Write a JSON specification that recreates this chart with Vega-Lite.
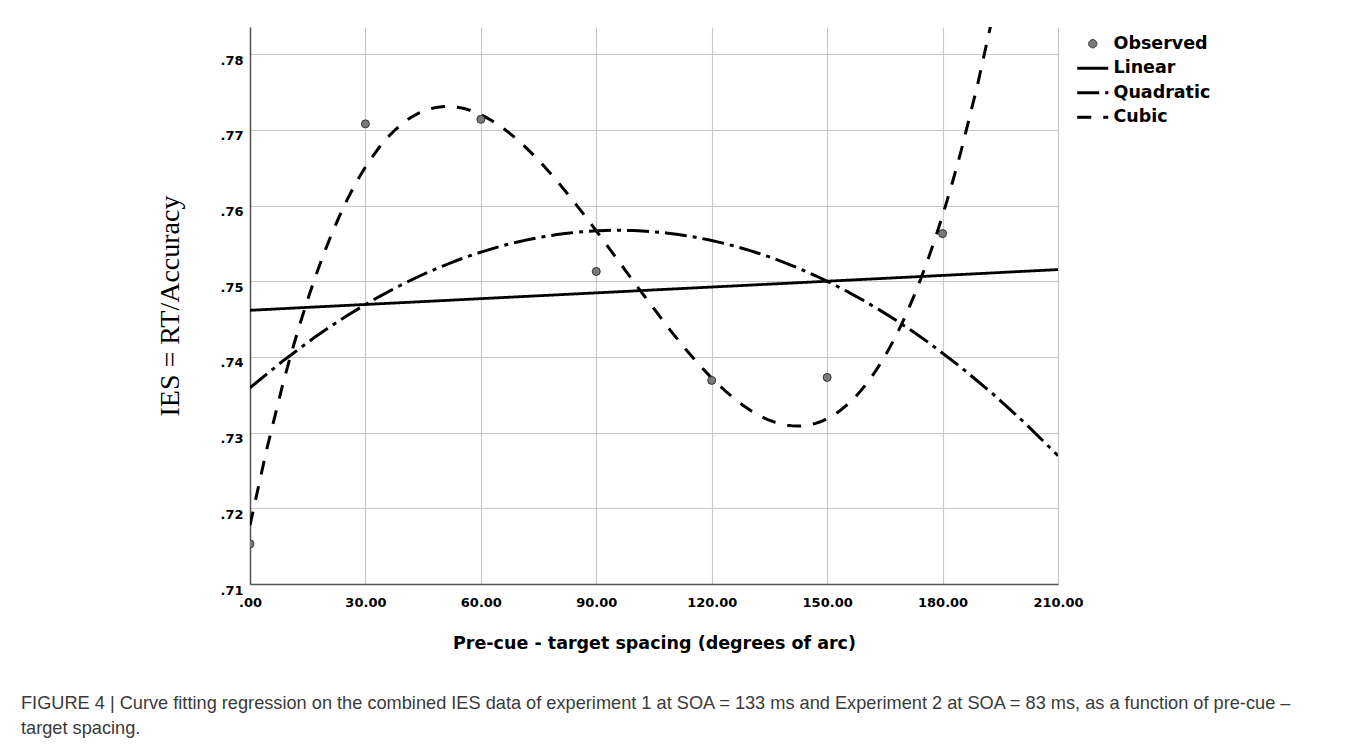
{
  "$schema": "https://vega.github.io/schema/vega-lite/v6.json",
  "width": 808,
  "height": 557,
  "autosize": {"type": "none"},
  "padding": {"left": 250, "top": 27, "right": 299, "bottom": 160},
  "background": "white",
  "config": {"view": {"stroke": null}},
  "data": {"values": [
    {"x": 0, "y": 0.7153},
    {"x": 30, "y": 0.7708},
    {"x": 60, "y": 0.7714},
    {"x": 90, "y": 0.7513},
    {"x": 120, "y": 0.7369},
    {"x": 150, "y": 0.7373},
    {"x": 180, "y": 0.7563}
  ]},
  "title": {
    "text": ["FIGURE 4 | Curve fitting regression on the combined IES data of experiment 1 at SOA = 133 ms and Experiment 2 at SOA = 83 ms, as a function of pre-cue –", "target spacing."],
    "orient": "bottom",
    "anchor": "start",
    "frame": "group",
    "dx": -229,
    "offset": 43,
    "font": "Liberation Sans Narrow, Liberation Sans",
    "fontSize": 18.2,
    "fontWeight": "normal",
    "color": "#3a3a3a",
    "lineHeight": 25,
    "baseline": "top"
  },
  "encoding": {
    "x": {
      "field": "x", "type": "quantitative",
      "scale": {"domain": [0, 210], "nice": false, "zero": false},
      "axis": {
        "values": [0, 30, 60, 90, 120, 150, 180, 210],
        "labelExpr": "datum.value === 0 ? '.00' : format(datum.value, '.2f')",
        "title": "Pre-cue - target spacing (degrees of arc)",
        "grid": true, "gridColor": "#c8c8c8", "gridWidth": 1.2,
        "domainColor": "#555555", "domainWidth": 1.5,
        "ticks": false,
        "labelFlush": false, "labelOverlap": false,
        "labelFont": "DejaVu Sans", "labelFontWeight": "bold", "labelFontSize": 13, "labelColor": "#000000",
        "labelPadding": 12,
        "titleFont": "DejaVu Sans", "titleFontWeight": "bold", "titleFontSize": 17.5, "titleColor": "#000000",
        "titlePadding": 25
      }
    },
    "y": {
      "field": "y", "type": "quantitative",
      "scale": {"domain": [0.71, 0.7836], "nice": false, "zero": false},
      "axis": {
        "values": [0.71, 0.72, 0.73, 0.74, 0.75, 0.76, 0.77, 0.78],
        "labelExpr": "replace(format(datum.value, '.2f'), '0.', '.')",
        "title": "IES = RT/Accuracy",
        "grid": true, "gridColor": "#c8c8c8", "gridWidth": 1.2,
        "domainColor": "#555555", "domainWidth": 1.5,
        "ticks": false,
        "labelFlush": false, "labelOverlap": false,
        "labelFont": "DejaVu Sans", "labelFontWeight": "bold", "labelFontSize": 13, "labelColor": "#000000",
        "labelPadding": 7, "labelOffset": 6,
        "titleFont": "Liberation Serif", "titleFontWeight": "normal", "titleFontSize": 28, "titleColor": "#000000",
        "titlePadding": 35
      }
    }
  },
  "layer": [
    {
      "transform": [{"regression": "y", "on": "x", "method": "linear", "extent": [0, 210]}],
      "mark": {"type": "line", "color": "#000000", "strokeWidth": 2.8, "clip": true},
      "encoding": {
        "strokeDash": {
          "datum": "Linear", "type": "nominal",
          "scale": {"domain": ["Observed", "Linear", "Quadratic", "Cubic"], "range": [[1, 0], [1, 0], [22, 6, 4, 6], [14, 12]]},
          "legend": {
            "title": null, "orient": "none", "legendX": 834, "legendY": 8,
            "symbolType": "M-3,0H3", "symbolSize": 107, "symbolStrokeWidth": 2.8, "symbolStrokeColor": "#000000",
            "labelFont": "DejaVu Sans", "labelFontWeight": "bold", "labelFontSize": 17.5, "labelColor": "#000000",
            "labelOffset": 12, "rowPadding": 5.5,
            "encode": {"symbols": {"update": {
              "shape": {"signal": "datum.value === 'Observed' ? 'M-0.8,0A0.8,0.8,0,1,0,0.8,0A0.8,0.8,0,1,0,-0.8,0Z' : 'M-3,0H3'"},
              "fill": {"signal": "datum.value === 'Observed' ? '#7a7a7a' : 'transparent'"},
              "stroke": {"signal": "datum.value === 'Observed' ? '#333333' : '#000000'"},
              "strokeWidth": {"signal": "datum.value === 'Observed' ? 1 : 2.8"}
            }}}
          }
        }
      }
    },
    {
      "transform": [{"regression": "y", "on": "x", "method": "poly", "order": 2, "extent": [0, 210]}],
      "mark": {"type": "line", "color": "#000000", "strokeWidth": 3, "clip": true},
      "encoding": {"strokeDash": {"datum": "Quadratic", "type": "nominal"}}
    },
    {
      "transform": [{"regression": "y", "on": "x", "method": "poly", "order": 3, "extent": [0, 210]}],
      "mark": {"type": "line", "color": "#000000", "strokeWidth": 3, "clip": true},
      "encoding": {"strokeDash": {"datum": "Cubic", "type": "nominal"}}
    },
    {
      "mark": {"type": "circle", "fill": "#7a7a7a", "stroke": "#333333", "strokeWidth": 1, "size": 64, "opacity": 1, "clip": true},
      "encoding": {}
    }
  ]
}
